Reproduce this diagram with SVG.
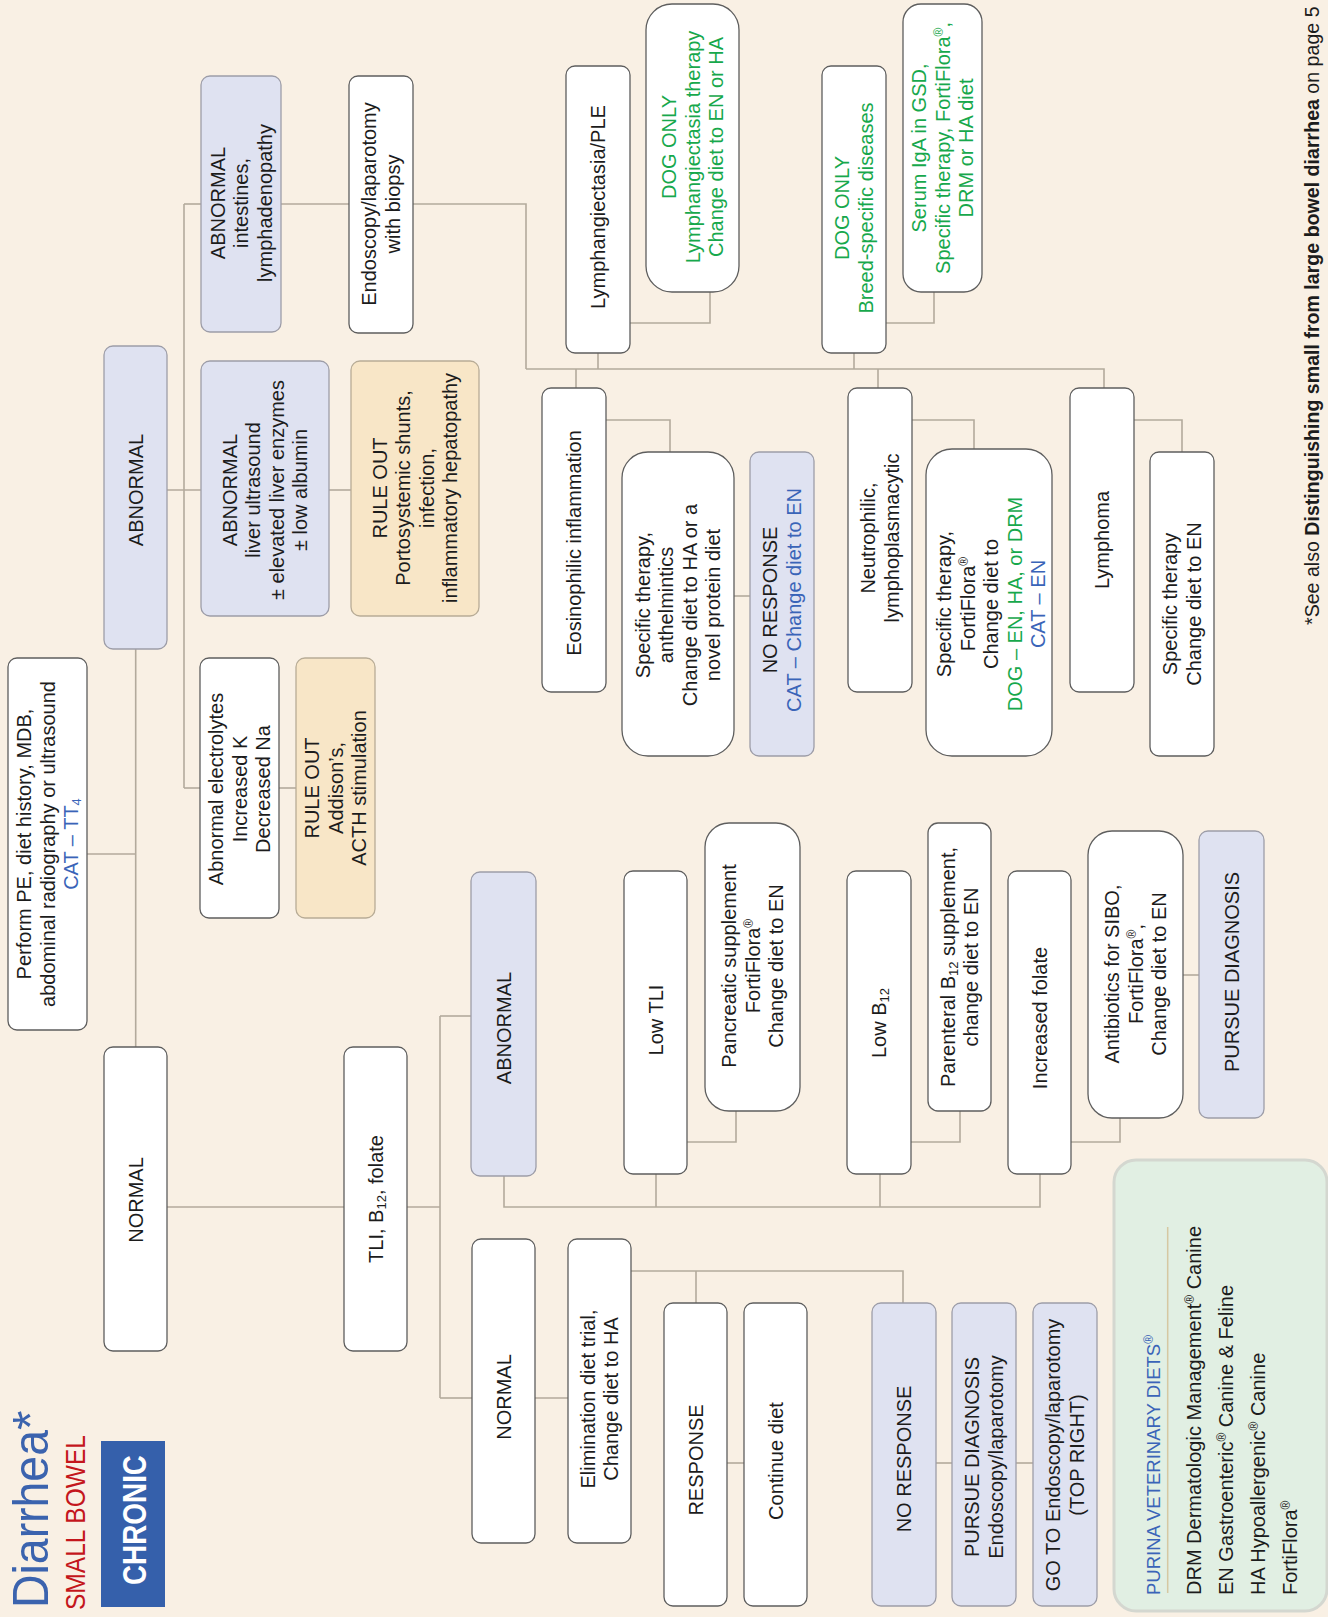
<svg xmlns="http://www.w3.org/2000/svg" width="1328" height="1617" viewBox="0 0 1328 1617">
<style>
.w{fill:#ffffff;stroke:#5e5e5e;stroke-width:1.3}
.l{fill:#dfe2f1;stroke:#9d9da8;stroke-width:1.3}
.p{fill:#f8e6c7;stroke:#b8ac96;stroke-width:1.3}
.t{font-family:"Liberation Sans",Arial,sans-serif;font-size:20px;fill:#1c1c1c;text-anchor:middle}
.s{font-family:"Liberation Sans",Arial,sans-serif;fill:#1c1c1c;text-anchor:start}
.g{fill:#17a84c}
.b{fill:#3a64b8}
.conn path{stroke:#b3aa9c;stroke-width:1.6;fill:none}
.sup{font-size:12px}
.sub{font-size:13px}
</style>
<rect x="0" y="0" width="1328" height="1617" fill="#f9f0e4"/>

<g id="connectors" class="conn">
<path d="M135.7 649 V1047"/>
<path d="M87 854 H135.7"/>
<path d="M167 490 H201"/>
<path d="M184 204 V788"/>
<path d="M184 204 H201"/>
<path d="M184 788 H200"/>
<path d="M329 490 H351"/>
<path d="M279 788 H296"/>
<path d="M281 204 H349"/>
<path d="M413 204 H526 V369"/>
<path d="M526 369 H1104 V388"/>
<path d="M598 353 V369"/>
<path d="M854 353 V369"/>
<path d="M576 369 V388"/>
<path d="M878 369 V388"/>
<path d="M630 323 H710 V292"/>
<path d="M886 323 H934 V292"/>
<path d="M606 420 H670 V452"/>
<path d="M734 596 H750"/>
<path d="M912 420 H974 V449"/>
<path d="M1134 420 H1182 V452"/>
<path d="M167 1207 H344"/>
<path d="M407 1207 H440"/>
<path d="M440 1016 V1398"/>
<path d="M440 1016 H471"/>
<path d="M440 1398 H472"/>
<path d="M504 1176 V1207 H1040 V1174"/>
<path d="M656 1174 V1207"/>
<path d="M880 1174 V1207"/>
<path d="M687 1142 H736 V1111"/>
<path d="M911 1142 H960 V1111"/>
<path d="M1071 1142 H1120 V1118"/>
<path d="M1183 975 H1199"/>
<path d="M535 1398 H568"/>
<path d="M631 1271 H903 V1303"/>
<path d="M696 1271 V1303"/>
<path d="M727 1463 H744"/>
<path d="M936 1463 H952"/>
<path d="M1016 1463 H1033"/>
</g>

<g id="title">
<text class="s" transform="translate(48,1608) rotate(-90)" font-size="50" style="fill:#3b63ae"><tspan textLength="178" lengthAdjust="spacingAndGlyphs">Diarrhea</tspan><tspan>*</tspan></text>
<text class="s" transform="translate(85,1610) rotate(-90)" font-size="27" textLength="175" lengthAdjust="spacingAndGlyphs" style="fill:#c4161c">SMALL BOWEL</text>
<rect x="101" y="1441" width="64" height="166" fill="#3560ab"/>
<text class="s" transform="translate(146,1585) rotate(-90)" font-size="34" font-weight="bold" textLength="130" lengthAdjust="spacingAndGlyphs" style="fill:#ffffff">CHRONIC</text>
</g>

<g id="n-perform"><rect class="w" x="8" y="658" width="79" height="372" rx="9"/>
<text class="t" transform="translate(47.5,844) rotate(-90)"><tspan x="0" y="-16.3">Perform PE, diet history, MDB,</tspan><tspan x="0" y="7.2">abdominal radiography or ultrasound</tspan><tspan x="0" y="30.7" class="b">CAT – TT<tspan class="sub" baseline-shift="-3">4</tspan></tspan></text></g>

<g id="n-normal1"><rect class="w" x="104" y="1047" width="63" height="304" rx="9"/>
<text class="t" transform="translate(135.5,1200) rotate(-90)"><tspan x="0" y="7.2">NORMAL</tspan></text></g>

<g id="n-abnormal1"><rect class="l" x="104" y="346" width="63" height="303" rx="9"/>
<text class="t" transform="translate(135.5,490) rotate(-90)"><tspan x="0" y="7.2">ABNORMAL</tspan></text></g>

<g id="n-abn-int"><rect class="l" x="201" y="76" width="80" height="256" rx="9"/>
<text class="t" transform="translate(241,203) rotate(-90)"><tspan x="0" y="-16.3">ABNORMAL</tspan><tspan x="0" y="7.2">intestines,</tspan><tspan x="0" y="30.7">lymphadenopathy</tspan></text></g>

<g id="n-abn-liver"><rect class="l" x="201" y="361" width="128" height="255" rx="9"/>
<text class="t" transform="translate(265,490) rotate(-90)"><tspan x="0" y="-28.05">ABNORMAL</tspan><tspan x="0" y="-4.55">liver ultrasound</tspan><tspan x="0" y="18.95">± elevated liver enzymes</tspan><tspan x="0" y="42.45">± low albumin</tspan></text></g>

<g id="n-ruleout1"><rect class="p" x="351" y="361" width="128" height="255" rx="9"/>
<text class="t" transform="translate(415,488) rotate(-90)"><tspan x="0" y="-28.05">RULE OUT</tspan><tspan x="0" y="-4.55">Portosystemic shunts,</tspan><tspan x="0" y="18.95">infection,</tspan><tspan x="0" y="42.45">inflammatory hepatopathy</tspan></text></g>

<g id="n-electro"><rect class="w" x="200" y="658" width="79" height="260" rx="9"/>
<text class="t" transform="translate(239.5,789) rotate(-90)"><tspan x="0" y="-16.3">Abnormal electrolytes</tspan><tspan x="0" y="7.2">Increased K</tspan><tspan x="0" y="30.7">Decreased  Na</tspan></text></g>

<g id="n-ruleout2"><rect class="p" x="296" y="658" width="79" height="260" rx="9"/>
<text class="t" transform="translate(335.5,788) rotate(-90)"><tspan x="0" y="-16.3">RULE OUT</tspan><tspan x="0" y="7.2">Addison’s,</tspan><tspan x="0" y="30.7">ACTH stimulation</tspan></text></g>

<g id="n-endo"><rect class="w" x="349" y="76" width="64" height="257" rx="9"/>
<text class="t" transform="translate(381,204) rotate(-90)"><tspan x="0" y="-4.55">Endoscopy/laparotomy</tspan><tspan x="0" y="18.95">with biopsy</tspan></text></g>

<g id="n-lymph"><rect class="w" x="566" y="66" width="64" height="287" rx="9"/>
<text class="t" transform="translate(598,207) rotate(-90)"><tspan x="0" y="7.2">Lymphangiectasia/PLE</tspan></text></g>

<g id="n-dog1"><rect class="w" x="646" y="4" width="93" height="288" rx="26"/>
<text class="t g" transform="translate(692.5,147) rotate(-90)"><tspan x="0" y="-16.3">DOG ONLY</tspan><tspan x="0" y="7.2">Lymphangiectasia therapy</tspan><tspan x="0" y="30.7">Change diet to EN or HA</tspan></text></g>

<g id="n-breed"><rect class="w" x="822" y="66" width="64" height="287" rx="9"/>
<text class="t g" transform="translate(854,208) rotate(-90)"><tspan x="0" y="-4.55">DOG ONLY</tspan><tspan x="0" y="18.95">Breed-specific diseases</tspan></text></g>

<g id="n-serum"><rect class="w" x="903" y="4" width="79" height="288" rx="18"/>
<text class="t g" transform="translate(942.5,148) rotate(-90)"><tspan x="0" y="-16.3">Serum IgA in GSD,</tspan><tspan x="0" y="7.2">Specific therapy, FortiFlora<tspan class="sup" baseline-shift="super">®</tspan>,</tspan><tspan x="0" y="30.7">DRM or HA diet</tspan></text></g>

<g id="n-eos"><rect class="w" x="542" y="388" width="64" height="304" rx="9"/>
<text class="t" transform="translate(574,543) rotate(-90)"><tspan x="0" y="7.2">Eosinophilic inflammation</tspan></text></g>

<g id="n-spec1"><rect class="w" x="622" y="452" width="112" height="304" rx="26"/>
<text class="t" transform="translate(678,605) rotate(-90)"><tspan x="0" y="-28.05">Specific therapy,</tspan><tspan x="0" y="-4.55">anthelmintics</tspan><tspan x="0" y="18.95">Change diet to HA or a</tspan><tspan x="0" y="42.45">novel protein diet</tspan></text></g>

<g id="n-nores1"><rect class="l" x="750" y="452" width="64" height="304" rx="9"/>
<text class="t" transform="translate(782,600) rotate(-90)"><tspan x="0" y="-4.55">NO RESPONSE</tspan><tspan x="0" y="18.95" class="b">CAT – Change diet to EN</tspan></text></g>

<g id="n-neutro"><rect class="w" x="848" y="388" width="64" height="304" rx="9"/>
<text class="t" transform="translate(880,538) rotate(-90)"><tspan x="0" y="-4.55">Neutrophilic,</tspan><tspan x="0" y="18.95">lymphoplasmacytic</tspan></text></g>

<g id="n-spec2"><rect class="w" x="926" y="449" width="126" height="307" rx="26"/>
<text class="t" transform="translate(991,604) rotate(-90)"><tspan x="0" y="-39.8">Specific therapy,</tspan><tspan x="0" y="-16.3">FortiFlora<tspan class="sup" baseline-shift="super">®</tspan></tspan><tspan x="0" y="7.2">Change diet to</tspan><tspan x="0" y="30.7" class="g">DOG – EN, HA, or DRM</tspan><tspan x="0" y="54.2" class="b">CAT – EN</tspan></text></g>

<g id="n-lymphoma"><rect class="w" x="1070" y="388" width="64" height="304" rx="9"/>
<text class="t" transform="translate(1102,540) rotate(-90)"><tspan x="0" y="7.2">Lymphoma</tspan></text></g>

<g id="n-spec3"><rect class="w" x="1150" y="452" width="64" height="304" rx="9"/>
<text class="t" transform="translate(1182,604) rotate(-90)"><tspan x="0" y="-4.55">Specific therapy</tspan><tspan x="0" y="18.95">Change diet to EN</tspan></text></g>

<g id="n-tli"><rect class="w" x="344" y="1047" width="63" height="304" rx="9"/>
<text class="t" transform="translate(375.5,1199) rotate(-90)"><tspan x="0" y="7.2">TLI, B<tspan class="sub" baseline-shift="-3">12</tspan>, folate</tspan></text></g>

<g id="n-abnormal2"><rect class="l" x="471" y="872" width="65" height="304" rx="9"/>
<text class="t" transform="translate(503.5,1028) rotate(-90)"><tspan x="0" y="7.2">ABNORMAL</tspan></text></g>

<g id="n-lowtli"><rect class="w" x="624" y="871" width="63" height="303" rx="9"/>
<text class="t" transform="translate(655.5,1020) rotate(-90)"><tspan x="0" y="7.2">Low TLI</tspan></text></g>

<g id="n-pancreatic"><rect class="w" x="705" y="823" width="95" height="288" rx="24"/>
<text class="t" transform="translate(752.5,966) rotate(-90)"><tspan x="0" y="-16.3">Pancreatic supplement</tspan><tspan x="0" y="7.2">FortiFlora<tspan class="sup" baseline-shift="super">®</tspan></tspan><tspan x="0" y="30.7">Change diet to EN</tspan></text></g>

<g id="n-lowb12"><rect class="w" x="847" y="871" width="64" height="303" rx="9"/>
<text class="t" transform="translate(879,1023) rotate(-90)"><tspan x="0" y="7.2">Low B<tspan class="sub" baseline-shift="-3">12</tspan></tspan></text></g>

<g id="n-parenteral"><rect class="w" x="928" y="823" width="63" height="288" rx="10"/>
<text class="t" transform="translate(959.5,967) rotate(-90)"><tspan x="0" y="-4.55">Parenteral B<tspan class="sub" baseline-shift="-3">12</tspan> supplement,</tspan><tspan x="0" y="18.95">change diet to EN</tspan></text></g>

<g id="n-folate"><rect class="w" x="1008" y="871" width="63" height="303" rx="9"/>
<text class="t" transform="translate(1039.5,1018) rotate(-90)"><tspan x="0" y="7.2">Increased folate</tspan></text></g>

<g id="n-antibiotics"><rect class="w" x="1088" y="831" width="95" height="287" rx="24"/>
<text class="t" transform="translate(1135.5,974) rotate(-90)"><tspan x="0" y="-16.3">Antibiotics for SIBO,</tspan><tspan x="0" y="7.2">FortiFlora<tspan class="sup" baseline-shift="super">®</tspan>,</tspan><tspan x="0" y="30.7">Change diet to EN</tspan></text></g>

<g id="n-pursue1"><rect class="l" x="1199" y="831" width="65" height="287" rx="9"/>
<text class="t" transform="translate(1231.5,972) rotate(-90)"><tspan x="0" y="7.2">PURSUE DIAGNOSIS</tspan></text></g>

<g id="n-normal2"><rect class="w" x="472" y="1239" width="63" height="304" rx="9"/>
<text class="t" transform="translate(503.5,1397) rotate(-90)"><tspan x="0" y="7.2">NORMAL</tspan></text></g>

<g id="n-elim"><rect class="w" x="568" y="1239" width="63" height="304" rx="9"/>
<text class="t" transform="translate(599.5,1399) rotate(-90)"><tspan x="0" y="-4.55">Elimination diet trial,</tspan><tspan x="0" y="18.95">Change diet to HA</tspan></text></g>

<g id="n-response"><rect class="w" x="664" y="1303" width="63" height="303" rx="9"/>
<text class="t" transform="translate(695.5,1460) rotate(-90)"><tspan x="0" y="7.2">RESPONSE</tspan></text></g>

<g id="n-continue"><rect class="w" x="744" y="1303" width="63" height="303" rx="9"/>
<text class="t" transform="translate(775.5,1461) rotate(-90)"><tspan x="0" y="7.2">Continue diet</tspan></text></g>

<g id="n-nores2"><rect class="l" x="872" y="1303" width="64" height="303" rx="9"/>
<text class="t" transform="translate(904,1459) rotate(-90)"><tspan x="0" y="7.2">NO RESPONSE</tspan></text></g>

<g id="n-pursue2"><rect class="l" x="952" y="1303" width="64" height="303" rx="9"/>
<text class="t" transform="translate(984,1457) rotate(-90)"><tspan x="0" y="-4.55">PURSUE DIAGNOSIS</tspan><tspan x="0" y="18.95">Endoscopy/laparotomy</tspan></text></g>

<g id="n-goto"><rect class="l" x="1033" y="1303" width="64" height="303" rx="9"/>
<text class="t" transform="translate(1065,1455) rotate(-90)"><tspan x="0" y="-4.55">GO TO Endoscopy/laparotomy</tspan><tspan x="0" y="18.95">(TOP RIGHT)</tspan></text></g>

<g id="legend">
<rect x="1114" y="1160" width="213" height="451" rx="22" fill="#e1efe3" stroke="#d4d7d0" stroke-width="3"/>
<line x1="1167.7" y1="1227" x2="1167.7" y2="1593" stroke="#d6c8a2" stroke-width="1.5"/>
<text class="s" transform="translate(1159.5,1595) rotate(-90)" font-size="18.5" style="fill:#3a64b8">PURINA VETERINARY DIETS<tspan class="sup" baseline-shift="super">®</tspan></text>
<text class="s" transform="translate(1201,1595) rotate(-90)" font-size="20">DRM Dermatologic Management<tspan class="sup" baseline-shift="super">®</tspan> Canine</text>
<text class="s" transform="translate(1233,1595) rotate(-90)" font-size="20">EN Gastroenteric<tspan class="sup" baseline-shift="super">®</tspan> Canine &amp; Feline</text>
<text class="s" transform="translate(1265,1595) rotate(-90)" font-size="20">HA Hypoallergenic<tspan class="sup" baseline-shift="super">®</tspan> Canine</text>
<text class="s" transform="translate(1297,1595) rotate(-90)" font-size="20">FortiFlora<tspan class="sup" baseline-shift="super">®</tspan></text>
</g>

<g id="footnote">
<text class="s" transform="translate(1319,625) rotate(-90)" font-size="19.6">*See also <tspan font-weight="bold">Distinguishing small from large bowel diarrhea</tspan> on page 5</text>
</g>
</svg>
